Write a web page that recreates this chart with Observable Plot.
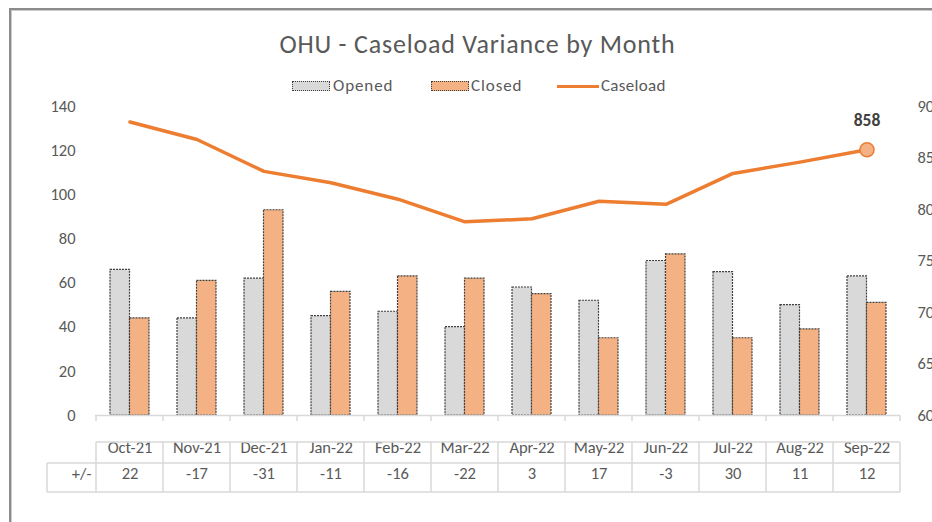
<!DOCTYPE html>
<html><head><meta charset="utf-8">
<script src="https://cdn.jsdelivr.net/npm/d3@7"></script>
<script src="https://cdn.jsdelivr.net/npm/@observablehq/plot@0.6"></script>
<style>
html,body{margin:0;padding:0;background:#fff;}
body{width:932px;height:522px;overflow:hidden;position:relative;font-family:Carlito,Lato,"Open Sans",sans-serif;color:#595959;}
#frame{position:absolute;left:9px;top:8px;width:1000px;height:600px;border-left:2px solid #8c8c8c;border-top:2px solid #8c8c8c;box-shadow:inset 1px 1px 0 #c9c9c9;}
#title{position:absolute;left:0;width:955px;top:27px;text-align:center;font-size:26px;letter-spacing:0.8px;line-height:34px;color:#595959;white-space:nowrap;}
.sw{position:absolute;top:81px;width:38px;height:10px;box-sizing:border-box;border:1px dotted #404040;}
.lt{position:absolute;top:75px;font-size:17px;letter-spacing:0.9px;line-height:22px;color:#595959;white-space:nowrap;}
#chart{position:absolute;left:0;top:95px;}
</style></head>
<body>
<div id="frame"></div>
<div id="title">OHU - Caseload Variance by Month</div>
<div class="sw" style="left:292px;background:#d9d9d9"></div>
<div class="lt" style="left:333px">Opened</div>
<div class="sw" style="left:431px;background:#f4b183"></div>
<div class="lt" style="left:471px">Closed</div>
<div style="position:absolute;left:557px;top:85px;width:42px;height:3px;background:#ed7d31"></div>
<div class="lt" style="left:601px;letter-spacing:0.3px">Caseload</div>
<div id="chart"></div>
<script>
const months = ["Oct-21","Nov-21","Dec-21","Jan-22","Feb-22","Mar-22","Apr-22","May-22","Jun-22","Jul-22","Aug-22","Sep-22"];
const opened = [66,44,62,45,47,40,58,52,70,65,50,63];
const closed = [44,61,93,56,63,62,55,35,73,35,39,51];
const variance = [22,-17,-31,-11,-16,-22,3,17,-3,30,11,12];
const caseload = [885,868,837,826,810,788,791,808,805,835,846,858];
const leftTicks = [0,20,40,60,80,100,120,140];
const rightTicks = [600,650,700,750,800,850,900];
const varianceLabel = "+/-";

const toLeft = v => (v - 600) * 140 / 300;
const toRight = v => v * 300 / 140 + 600;
const rows = months.map((m,i)=>({month:m, opened:opened[i], closed:closed[i], variance:variance[i], caseload:caseload[i]}));
const last = rows[rows.length-1];
const txt = "#595959";

const plot = Plot.plot({
  width: 932, height: 405,
  marginTop: 11, marginBottom: 85, marginLeft: 95, marginRight: 32,
  style: {fontFamily: "Carlito, Lato, 'Open Sans', sans-serif", fontSize: "16px", color: txt, background: "transparent", overflow: "visible"},
  x: {type: "band", domain: months, padding: 0, axis: null},
  y: {domain: [0, 140], axis: null, label: null},
  marks: [
    Plot.axisY(leftTicks, {anchor: "left", tickSize: 0, tickPadding: 20, fontSize: 16.5, label: null}),
    Plot.axisY(rightTicks.map(toLeft), {anchor: "right", tickSize: 0, tickPadding: 17, fontSize: 16.5, label: null, tickFormat: d => String(Math.round(toRight(d)))}),
    Plot.barY(rows, {x: "month", y: "opened", insetLeft: 14, insetRight: 33.5, fill: "#d9d9d9", stroke: "#404040", strokeWidth: 1.2, strokeDasharray: "2,1"}),
    Plot.barY(rows, {x: "month", y: "closed", insetLeft: 33.5, insetRight: 14, fill: "#f4b183", stroke: "#404040", strokeWidth: 1.2, strokeDasharray: "2,1"}),
    Plot.ruleY([0], {stroke: "#d9d9d9", strokeWidth: 1.5}),
    Plot.line(rows, {x: "month", y: d => toLeft(d.caseload), stroke: "#ed7d31", strokeWidth: 3.5, strokeLinejoin: "round"}),
    Plot.dot([last], {x: "month", y: d => toLeft(d.caseload), r: 7, fill: "#f4b183", stroke: "#ed7d31", strokeWidth: 1.5}),
    Plot.text([last], {x: "month", y: d => toLeft(d.caseload), text: d => String(d.caseload), dy: -29, fontSize: 17.5, fontWeight: "bold", fill: "#404040"}),
    Plot.text(rows, {x: "month", text: "month", frameAnchor: "bottom", dy: 37, fontSize: 16.5, fill: txt}),
    Plot.text(rows, {x: "month", text: d => String(d.variance), frameAnchor: "bottom", dy: 63, fontSize: 16.5, fill: txt}),
    Plot.text([varianceLabel], {text: d => d, frameAnchor: "bottom-left", dx: -4, dy: 63, textAnchor: "end", fontSize: 16.5, fill: txt})
  ]
});
document.getElementById("chart").appendChild(plot);

// table grid & category ticks using the plot's x scale
const xs = plot.scale("x");
const edges = months.map(m => xs.apply(m));
edges.push(xs.apply(months[months.length-1]) + xs.bandwidth);
const yBase = 320, yTop = 347, yMid = 368, yBot = 397, xLeft = 47;
const g = d3.select(plot).append("g").attr("stroke", "#d9d9d9").attr("stroke-width", 1.5).attr("fill", "none");
edges.forEach(e => {
  g.append("line").attr("x1", e).attr("x2", e).attr("y1", yBase).attr("y2", yBase + 6);
  g.append("line").attr("x1", e).attr("x2", e).attr("y1", yTop).attr("y2", yBot);
});
const x0 = edges[0], x1 = edges[edges.length-1];
g.append("line").attr("x1", x0).attr("x2", x1).attr("y1", yTop).attr("y2", yTop);
g.append("line").attr("x1", xLeft).attr("x2", x1).attr("y1", yMid).attr("y2", yMid);
g.append("line").attr("x1", xLeft).attr("x2", x1).attr("y1", yBot).attr("y2", yBot);
g.append("line").attr("x1", xLeft).attr("x2", xLeft).attr("y1", yMid).attr("y2", yBot);
</script>
</body></html>
